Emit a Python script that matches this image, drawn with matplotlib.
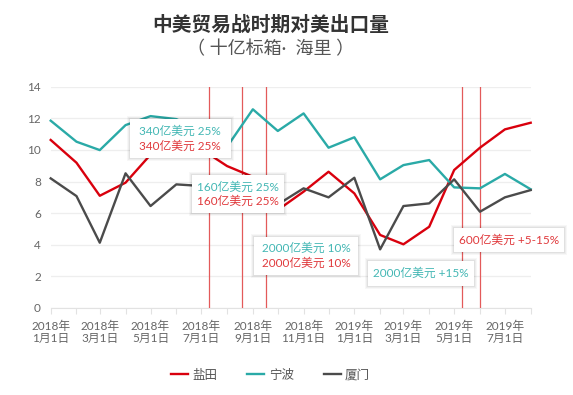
import matplotlib
matplotlib.use("Agg")
import matplotlib.pyplot as plt
import matplotlib.dates as mdates
from matplotlib.patches import Rectangle
import pandas as pd

plt.rcParams['font.family'] = ['Lato', 'Noto Sans CJK SC', 'DejaVu Sans']

# ---------------- data ----------------
months = pd.date_range('2018-01-01', periods=20, freq='MS')
yantian = [10.63, 9.19, 7.10, 7.93, 9.70, 10.20, 10.05, 8.98, 8.30, 6.20,
           7.36, 8.62, 7.25, 4.62, 4.03, 5.14, 8.73, 10.14, 11.30, 11.72]
ningbo = [11.85, 10.52, 9.99, 11.57, 12.14, 11.95, 11.20, 10.20, 12.57, 11.20,
          12.31, 10.14, 10.80, 8.14, 9.04, 9.36, 7.63, 7.57, 8.48, 7.51]
xiamen = [8.20, 7.08, 4.13, 8.52, 6.45, 7.82, 7.72, 7.30, 6.90, 6.55,
          7.57, 7.00, 8.24, 3.71, 6.45, 6.62, 8.14, 6.09, 7.00, 7.46]
series_names = ['盐田', '宁波', '厦门']
tariff_dates = pd.to_datetime(['2018-07-10', '2018-08-19', '2018-09-17',
                               '2019-05-10', '2019-06-01'])
title = '中美贸易战时期对美出口量'
subtitle = '（ 十亿标箱·  海里 ）'

RED = '#d9000d'
TEAL = '#2aaaa7'
DARK = '#4b4b4b'
TXT_TEAL = '#43b7b4'
TXT_RED = '#e0393c'

W, H = 573, 395
fig = plt.figure(figsize=(W / 100, H / 100), dpi=100)
fig.patch.set_facecolor('white')

def fx(px):
    return px / W

def fy(py):
    return 1 - py / H

ax = fig.add_axes([fx(50.7), fy(308), fx(530.7) - fx(50.7), fy(86.7) - fy(308)])

ax.plot(months, yantian, color=RED, lw=1.7, zorder=4, clip_on=False, label=series_names[0])
ax.plot(months, ningbo, color=TEAL, lw=1.7, zorder=4, clip_on=False, label=series_names[1])
ax.plot(months, xiamen, color=DARK, lw=1.7, zorder=4, clip_on=False, label=series_names[2])

for d in tariff_dates:
    ax.axvline(d, color='#e35a5a', lw=0.9, zorder=3)

ax.set_xlim(pd.Timestamp('2018-01-01'), pd.Timestamp('2019-08-01'))
ax.set_ylim(0, 14)
ax.set_yticks(range(0, 15, 2))
ax.yaxis.grid(True, color='#eeeeee', lw=0.9)
ax.set_axisbelow(True)

ax.xaxis.set_major_locator(mdates.MonthLocator())

def fmt(x, pos):
    d = mdates.num2date(x)
    if d.month % 2 == 1:
        return f'{d.year}年\n{d.month}月1日'
    return ''

ax.xaxis.set_major_formatter(plt.FuncFormatter(fmt))

for s in ['left', 'right', 'top']:
    ax.spines[s].set_visible(False)
ax.spines['bottom'].set_color('#e2e2e2')
ax.tick_params(axis='y', length=0, pad=7, labelsize=8.5, labelcolor='#666666')
ax.tick_params(axis='x', length=4, color='#e2e2e2', pad=5, labelsize=8.5,
               labelcolor='#666666')
for lab in ax.get_xticklabels():
    lab.set_linespacing(1.15)

# titles
fig.text(fx(271), fy(25), title, ha='center', va='center', fontsize=14.2,
         fontweight='bold', color='#333333', family=['Noto Sans CJK SC'])
fig.text(fx(270.5), fy(49), subtitle, ha='center', va='center', fontsize=13,
         color='#555555', family=['Lato', 'Noto Sans CJK SC', 'DejaVu Sans'])

# annotation boxes
def box(x0, y0, x1, y1, lines):
    for k, a in [(3, 0.03), (2, 0.04), (1, 0.05)]:
        fig.add_artist(Rectangle((fx(x0 - k), fy(y1 + k)), fx(x1 - x0 + 2 * k),
                                 (y1 - y0 + 2 * k) / H, facecolor='black',
                                 edgecolor='none', alpha=a, zorder=5))
    fig.add_artist(Rectangle((fx(x0), fy(y1)), fx(x1 - x0), (y1 - y0) / H,
                             facecolor='white', edgecolor='none', zorder=6))
    cx = (x0 + x1) / 2
    cy = (y0 + y1) / 2
    n = len(lines)
    for i, (t, c) in enumerate(lines):
        off = (i - (n - 1) / 2) * 14.4
        fig.text(fx(cx), fy(cy + off), t, ha='center', va='center',
                 fontsize=8.5, color=c, zorder=7)

box(130, 119.3, 230.7, 158.3, [('340亿美元 25%', TXT_TEAL), ('340亿美元 25%', TXT_RED)])
box(192, 175, 284, 212.7, [('160亿美元 25%', TXT_TEAL), ('160亿美元 25%', TXT_RED)])
box(254.3, 236.5, 358.3, 275, [('2000亿美元 10%', TXT_TEAL), ('2000亿美元 10%', TXT_RED)])
box(368.3, 260.7, 474.3, 286, [('2000亿美元 +15%', TXT_TEAL)])
box(454, 227.7, 564, 251.7, [('600亿美元 +5-15%', TXT_RED)])

# legend
fig.legend(loc='center', bbox_to_anchor=(fx(270.5), fy(375)), ncol=3,
           frameon=False, labelcolor='#555555', handlelength=1.35,
           handletextpad=0.35, columnspacing=2.4,
           prop={'family': ['Noto Sans CJK SC'], 'size': 9})

fig.savefig('out.png', dpi=100, facecolor='white')
